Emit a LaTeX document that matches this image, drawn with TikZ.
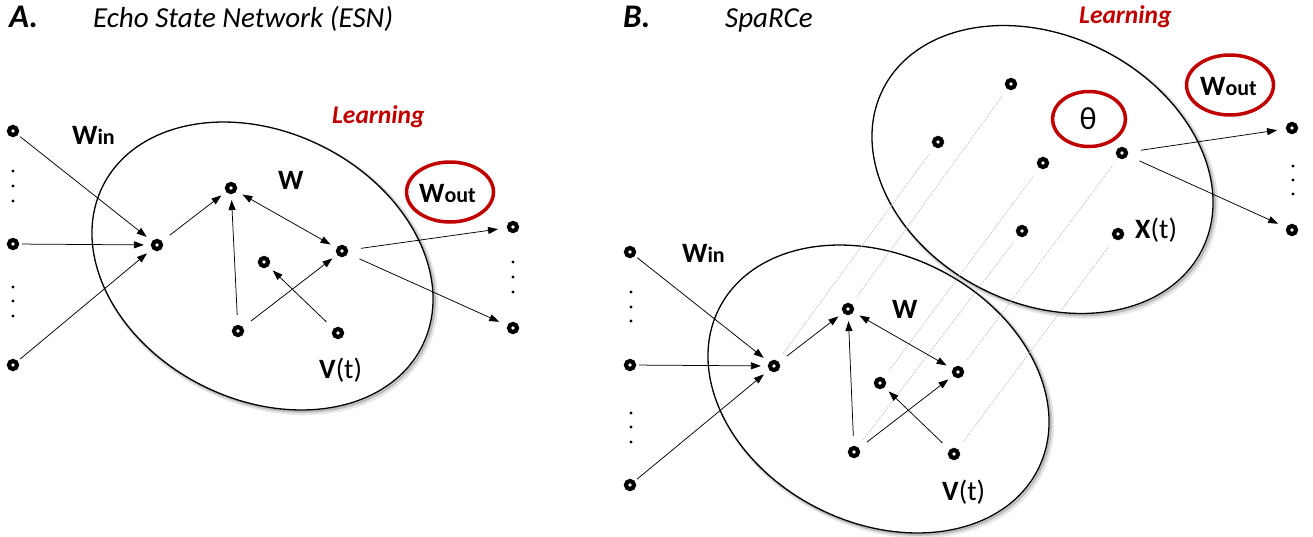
\documentclass[tikz,border=0pt]{standalone}
\usepackage{fontspec}
\setmainfont{Carlito}
\usetikzlibrary{arrows.meta,shapes.geometric}
\definecolor{lred}{RGB}{192,0,0}
\newcommand{\bigWf}{\fontsize{28}{28}\selectfont\bfseries}
\newcommand{\subWf}{\fontsize{22}{22}\selectfont\bfseries}
\newcommand{\regf}{\fontsize{28}{28}\selectfont}
\newcommand{\thetaf}{\fontsize{32}{32}\selectfont}
\newcommand{\titlef}{\fontsize{33}{33}\selectfont\bfseries\itshape}
\newcommand{\subtitlef}{\fontsize{29}{29}\selectfont\itshape}
\newcommand{\learnf}{\fontsize{25.5}{25.5}\selectfont\bfseries\itshape}
% reservoir ellipse with soft shadow on the outside
\newcommand{\resell}[3]{%
  \begin{scope}[even odd rule, rotate around={-26.7:(#1,#2)}]
    \clip (#1-420,#2-420) rectangle (#1+420,#2+420) (#1,#2) ellipse [x radius=178.6pt, y radius=133.8pt];
    \draw[rotate around={26.7:(#1,#2)}, shift={(2.6,2.6)}, rotate around={-26.7:(#1,#2)}, black, opacity=0.10, line width=5pt] (#1,#2) ellipse [x radius=178.6pt, y radius=133.8pt];
    \draw[rotate around={26.7:(#1,#2)}, shift={(1.6,1.6)}, rotate around={-26.7:(#1,#2)}, black, opacity=0.18, line width=2.4pt] (#1,#2) ellipse [x radius=178.6pt, y radius=133.8pt];
  \end{scope}
  \draw[rotate around={-26.7:(#1,#2)}, line width=1.3pt] (#1,#2) ellipse [x radius=178.6pt, y radius=133.8pt];
  \coordinate (#3) at (#1,#2);
}
\tikzset{
  neuron/.style={circle, draw=black, fill=white, line width=4.2pt, minimum size=8pt, inner sep=0pt},
  conn/.style={line width=0.75pt, -{Triangle[length=10pt,width=7pt]}, shorten <=10pt, shorten >=6pt},
  inconn/.style={line width=0.75pt, -{Triangle[length=10pt,width=7pt]}, shorten <=3pt, shorten >=7pt},
  outconn/.style={line width=0.75pt, -{Triangle[length=10pt,width=7pt]}, shorten <=13pt, shorten >=9pt},
  biconn/.style={line width=0.75pt, {Triangle[length=10pt,width=7pt]}-{Triangle[length=10pt,width=7pt]}, shorten <=7pt, shorten >=7pt},
  ghost/.style={black!28, line width=0.5pt, dash pattern=on 2pt off 1pt, shorten <=9pt, shorten >=9pt},
  dotpt/.style={circle, fill=black, inner sep=0pt, minimum size=3.4pt},
  redring/.style={ellipse, draw=lred, line width=3.5pt, inner sep=0pt},
  lbl/.style={inner sep=0pt, anchor=base west}
}
\begin{document}
\begin{tikzpicture}[x=1pt,y=-1pt]
\useasboundingbox (0,0) rectangle (1313,536);

% ---------------- Panel A ----------------
\node[lbl] (tA) at (9,27) {\titlef A.};
\node[lbl] (esn) at (93,27) {\subtitlef Echo State Network (ESN)};

\resell{262.5}{266}{ellA}

\node[neuron] (iA1) at (13,131) {};
\node[neuron] (iA2) at (13,244) {};
\node[neuron] (iA3) at (13,365) {};
\foreach \y [count=\k] in {171,186,201,287,301,316} \node[dotpt] (dA\k) at (13,\y) {};

\node[neuron] (nA1) at (157,245) {};
\node[neuron] (nA2) at (231,188) {};
\node[neuron] (nA3) at (342,251) {};
\node[neuron] (nA4) at (264,262) {};
\node[neuron] (nA5) at (238,331) {};
\node[neuron] (nA6) at (338,333) {};

\node[neuron] (oA1) at (513,227) {};
\node[neuron] (oA2) at (513,328) {};
\foreach \y [count=\k] in {262,277,292} \node[dotpt] (eA\k) at (513,\y) {};

\draw[inconn] (iA1) -- (nA1);
\draw[inconn] (iA2) -- (nA1);
\draw[inconn] (iA3) -- (nA1);
\draw[conn] (nA1) -- (nA2);
\draw[conn] (nA5) -- (nA2);
\draw[biconn] (nA2) -- (nA3);
\draw[conn] (nA5) -- (nA3);
\draw[conn] (nA6) -- (nA4);
\draw[outconn] (nA3) -- (oA1);
\draw[outconn] (nA3) -- (oA2);

\node[lbl] (winA) at (72,144) {{\bigWf W}{\subWf in}};
\node[lbl] (wA) at (278,189) {\bigWf W};
\node[lbl] (vA) at (319,378) {{\bigWf V}{\regf(t)}};
\node[lbl, text=lred] (learnA) at (332,123) {\learnf Learning};
\node[redring, minimum width=87pt, minimum height=60pt] (ringA) at (450,192) {};
\node[lbl] (woutA) at (419,202) {{\bigWf W}{\subWf out}};

% ---------------- Panel B ----------------
\node[lbl] (tB) at (623,27) {\titlef B.};
\node[lbl] (sparce) at (725,27) {\subtitlef SpaRCe};

\resell{1042.5}{169.5}{ellU}
\resell{878.5}{389}{ellL}

\node[neuron] (iB1) at (630,252) {};
\node[neuron] (iB2) at (630,365) {};
\node[neuron] (iB3) at (630,485) {};
\foreach \y [count=\k] in {292,307,321,413,427,442} \node[dotpt] (dB\k) at (631,\y) {};

\node[neuron] (nB1) at (774,366) {};
\node[neuron] (nB2) at (848,309) {};
\node[neuron] (nB3) at (958,372) {};
\node[neuron] (nB4) at (880,383) {};
\node[neuron] (nB5) at (854,452) {};
\node[neuron] (nB6) at (954,454) {};

\node[neuron] (uB1) at (938,142) {};
\node[neuron] (uB2) at (1011,84) {};
\node[neuron] (uB3) at (1122,153) {};
\node[neuron] (uB4) at (1043,163) {};
\node[neuron] (uB5) at (1022,231) {};
\node[neuron] (uB6) at (1118,234) {};

\foreach \k in {1,...,6} \draw[ghost] (nB\k) -- (uB\k);

\node[neuron] (oB1) at (1292,128) {};
\node[neuron] (oB2) at (1292,230) {};
\foreach \y [count=\k] in {166,180,194} \node[dotpt] (eB\k) at (1293,\y) {};

\draw[inconn] (iB1) -- (nB1);
\draw[inconn] (iB2) -- (nB1);
\draw[inconn] (iB3) -- (nB1);
\draw[conn] (nB1) -- (nB2);
\draw[conn] (nB5) -- (nB2);
\draw[biconn] (nB2) -- (nB3);
\draw[conn] (nB5) -- (nB3);
\draw[conn] (nB6) -- (nB4);
\draw[outconn] (uB3) -- (oB1);
\draw[outconn] (uB3) -- (oB2);

\node[lbl] (winB) at (682,262) {{\bigWf W}{\subWf in}};
\node[lbl] (wB) at (892,318) {\bigWf W};
\node[lbl] (vB) at (942,500) {{\bigWf V}{\regf(t)}};
\node[lbl] (xB) at (1135,238) {{\bigWf X}{\regf(t)}};
\node[lbl, text=lred] (learnB) at (1079,23) {\learnf Learning};
\node[redring, minimum width=73pt, minimum height=55pt] (ringT) at (1089,119) {};
\node[anchor=base, inner sep=0pt] (theta) at (1088,129) {\thetaf θ};
\node[redring, minimum width=87pt, minimum height=60pt] (ringB) at (1230,85) {};
\node[lbl] (woutB) at (1200,95) {{\bigWf W}{\subWf out}};
\end{tikzpicture}
\end{document}
